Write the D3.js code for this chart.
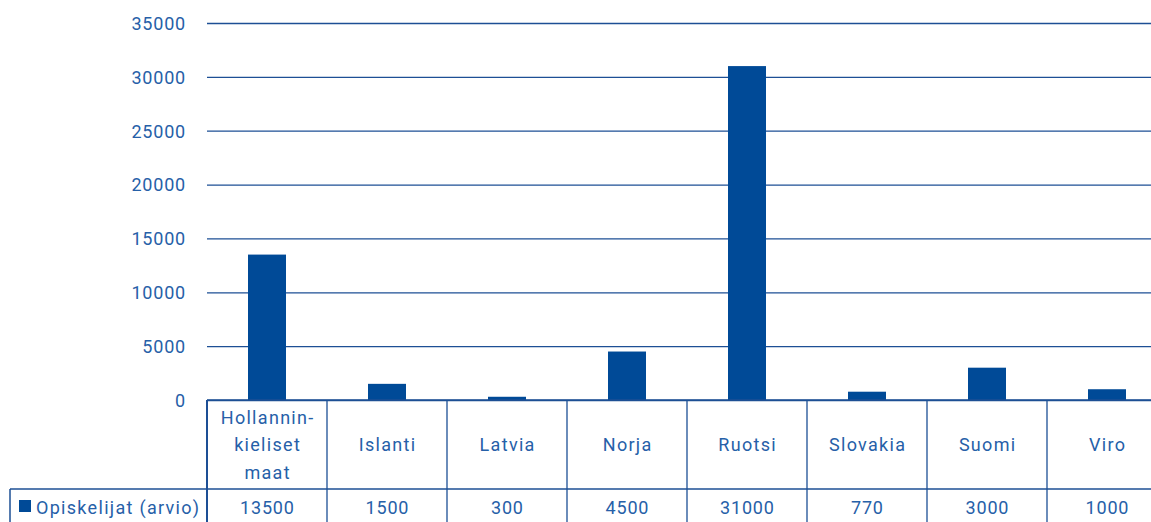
<!DOCTYPE html>
<html><head><meta charset="utf-8">
<script src="https://cdn.jsdelivr.net/npm/d3@7/dist/d3.min.js"></script>
<style>body{margin:0;background:#fff;} text{font-family:Roboto, "DejaVu Sans", sans-serif;}</style>
</head><body>
<svg id="c" width="1151" height="522"></svg>
<script>
const categories = ["Hollannin-|kieliset|maat","Islanti","Latvia","Norja","Ruotsi","Slovakia","Suomi","Viro"];
const values = [13500,1500,300,4500,31000,770,3000,1000];
const seriesName = "Opiskelijat (arvio)";
const yTicks = [0,5000,10000,15000,20000,25000,30000,35000];

(function(){
const barColor = "#004a97", lineColor = "#1d4f95", textColor = "#2660a8";
const svg = d3.select("#c");
const mLeft = 207, mRight = 1167, mTop = 23, mBottom = 400;
const x = d3.scaleBand().domain(categories).range([mLeft, mRight]).paddingInner(0).paddingOuter(0);
const y = d3.scaleLinear().domain([0,35000]).range([mBottom, mTop]);
const numLS = 0.8, txtLS = 1.3;

// gridlines
const yAxis = d3.axisLeft(y).tickValues(yTicks).tickSize(-(mRight-mLeft)).tickPadding(21).tickFormat(d3.format("d"));
const g = svg.append("g").attr("transform",`translate(${mLeft},0)`).call(yAxis);
g.select(".domain").remove();
g.selectAll(".tick line").attr("stroke", lineColor).attr("stroke-width",1.3);
g.selectAll(".tick text").attr("fill", textColor).attr("font-size",18).attr("font-family","Roboto, sans-serif").attr("dy","0.35em").attr("letter-spacing",numLS);

// bars
const bw = 38;
svg.append("g").selectAll("rect").data(values).join("rect")
  .attr("x",(d,i)=>x(categories[i])+x.bandwidth()/2-bw/2)
  .attr("width",bw)
  .attr("y",d=>y(d)).attr("height",d=>y(0)-y(d))
  .attr("fill",barColor);

// table
const rowMid = 489, rowBot = 530, legendLeft = 10;
const t = svg.append("g");
t.append("line").attr("x1",mLeft).attr("x2",mRight).attr("y1",mBottom).attr("y2",mBottom).attr("stroke",lineColor).attr("stroke-width",1.5);
t.append("line").attr("x1",legendLeft).attr("x2",mRight).attr("y1",rowMid).attr("y2",rowMid).attr("stroke",lineColor).attr("stroke-width",1.5);
const bounds = categories.map(c=>x(c)).concat([mRight]);
t.selectAll("line.v").data(bounds).join("line").attr("class","v")
  .attr("x1",d=>d).attr("x2",d=>d).attr("y1",mBottom).attr("y2",rowBot)
  .attr("stroke",lineColor).attr("stroke-width",(d,i)=>i===0?2:1.3);
t.append("line").attr("x1",legendLeft).attr("x2",legendLeft).attr("y1",rowMid).attr("y2",rowBot).attr("stroke",lineColor).attr("stroke-width",1.5);

// category labels
categories.forEach(c=>{
  const lines = c.split("|");
  const cx = x(c)+x.bandwidth()/2 + txtLS/2;
  const lh = 27.5, mid = 445;
  lines.forEach((ln,j)=>{
    t.append("text").attr("x",cx).attr("y",mid+(j-(lines.length-1)/2)*lh).attr("dy","0.35em")
     .attr("text-anchor","middle").attr("fill",textColor).attr("font-size",18).attr("letter-spacing",txtLS).text(ln);
  });
});
// values row
values.forEach((v,i)=>{
  t.append("text").attr("x",x(categories[i])+x.bandwidth()/2 + numLS/2).attr("y",508).attr("dy","0.35em")
   .attr("text-anchor","middle").attr("fill",textColor).attr("font-size",18).attr("letter-spacing",numLS).text(v);
});
// legend
t.append("rect").attr("x",19).attr("y",500).attr("width",12).attr("height",12).attr("fill",barColor);
t.append("text").attr("x",36).attr("y",508).attr("dy","0.35em").attr("fill",textColor).attr("font-size",18).attr("letter-spacing",txtLS).text(seriesName);
})();
</script>
</body></html>
